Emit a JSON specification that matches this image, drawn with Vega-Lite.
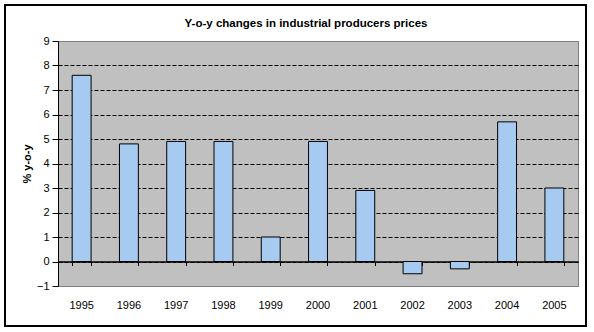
{
  "$schema": "https://vega.github.io/schema/vega-lite/v6.json",
  "width": 520,
  "height": 245,
  "autosize": "none",
  "padding": {"left": 58, "top": 41, "right": 16, "bottom": 46},
  "background": "white",
  "config": {
    "font": "Liberation Sans",
    "view": {"fill": "#C0C0C0", "stroke": "#808080", "strokeWidth": 1}
  },
  "title": {
    "text": "Y-o-y changes in industrial producers prices",
    "font": "Liberation Sans",
    "fontSize": 11.5,
    "fontWeight": "bold",
    "color": "black",
    "anchor": "middle",
    "frame": "group",
    "baseline": "alphabetic",
    "dx": -12,
    "offset": -34
  },
  "data": {
    "values": [
      {"year": "1995", "value": 7.6},
      {"year": "1996", "value": 4.8},
      {"year": "1997", "value": 4.9},
      {"year": "1998", "value": 4.9},
      {"year": "1999", "value": 1.0},
      {"year": "2000", "value": 4.9},
      {"year": "2001", "value": 2.9},
      {"year": "2002", "value": -0.5},
      {"year": "2003", "value": -0.3},
      {"year": "2004", "value": 5.7},
      {"year": "2005", "value": 3.0}
    ]
  },
  "layer": [
    {
      "data": {"values": [{}]},
      "mark": {"type": "rect", "fill": null, "stroke": "black", "strokeWidth": 2},
      "encoding": {
        "x": {"value": -53},
        "x2": {"value": 528},
        "y": {"value": -36},
        "y2": {"value": 285}
      }
    },
    {
      "mark": {"type": "bar", "fill": "#A6CAF0", "stroke": "black", "strokeWidth": 1},
      "encoding": {
        "x": {
          "field": "year",
          "type": "nominal",
          "scale": {"paddingInner": 0.6, "paddingOuter": 0.3},
          "axis": {
            "title": null,
            "orient": "bottom",
            "labelAngle": 0,
            "labelFontSize": 11,
            "labelColor": "black",
            "labelPadding": 13,
            "domain": false,
            "ticks": false,
            "grid": false
          }
        },
        "y": {
          "field": "value",
          "type": "quantitative",
          "scale": {"domain": [-1, 9], "nice": false, "zero": false},
          "axis": {
            "title": "% y-o-y",
            "titleFontSize": 11,
            "titleFontWeight": "bold",
            "titleColor": "black",
            "titlePadding": 4,
            "values": [-1, 0, 1, 2, 3, 4, 5, 6, 7, 8, 9],
            "labelFontSize": 11,
            "labelColor": "black",
            "labelPadding": 3,
            "domainColor": "black",
            "tickColor": "black",
            "tickSize": 6,
            "grid": true,
            "gridColor": {"condition": {"test": "datum.value >= 9 || datum.value <= -1", "value": "#808080"}, "value": "black"},
            "gridDash": {"condition": {"test": "datum.value >= 9 || datum.value <= -1", "value": []}, "value": [4, 2]},
            "gridOpacity": 1
          }
        },
        "y2": {"datum": 0}
      }
    },
    {
      "mark": {"type": "bar", "opacity": 0},
      "encoding": {
        "x": {
          "field": "year",
          "type": "nominal",
          "axis": {
            "title": null,
            "orient": "bottom",
            "labels": false,
            "offset": -24.5,
            "domain": true,
            "domainColor": "black",
            "domainWidth": 1.5,
            "ticks": true,
            "tickBand": "extent",
            "tickColor": "black",
            "tickSize": 4,
            "grid": false
          }
        }
      }
    }
  ],
  "resolve": {"axis": {"x": "independent"}}
}
